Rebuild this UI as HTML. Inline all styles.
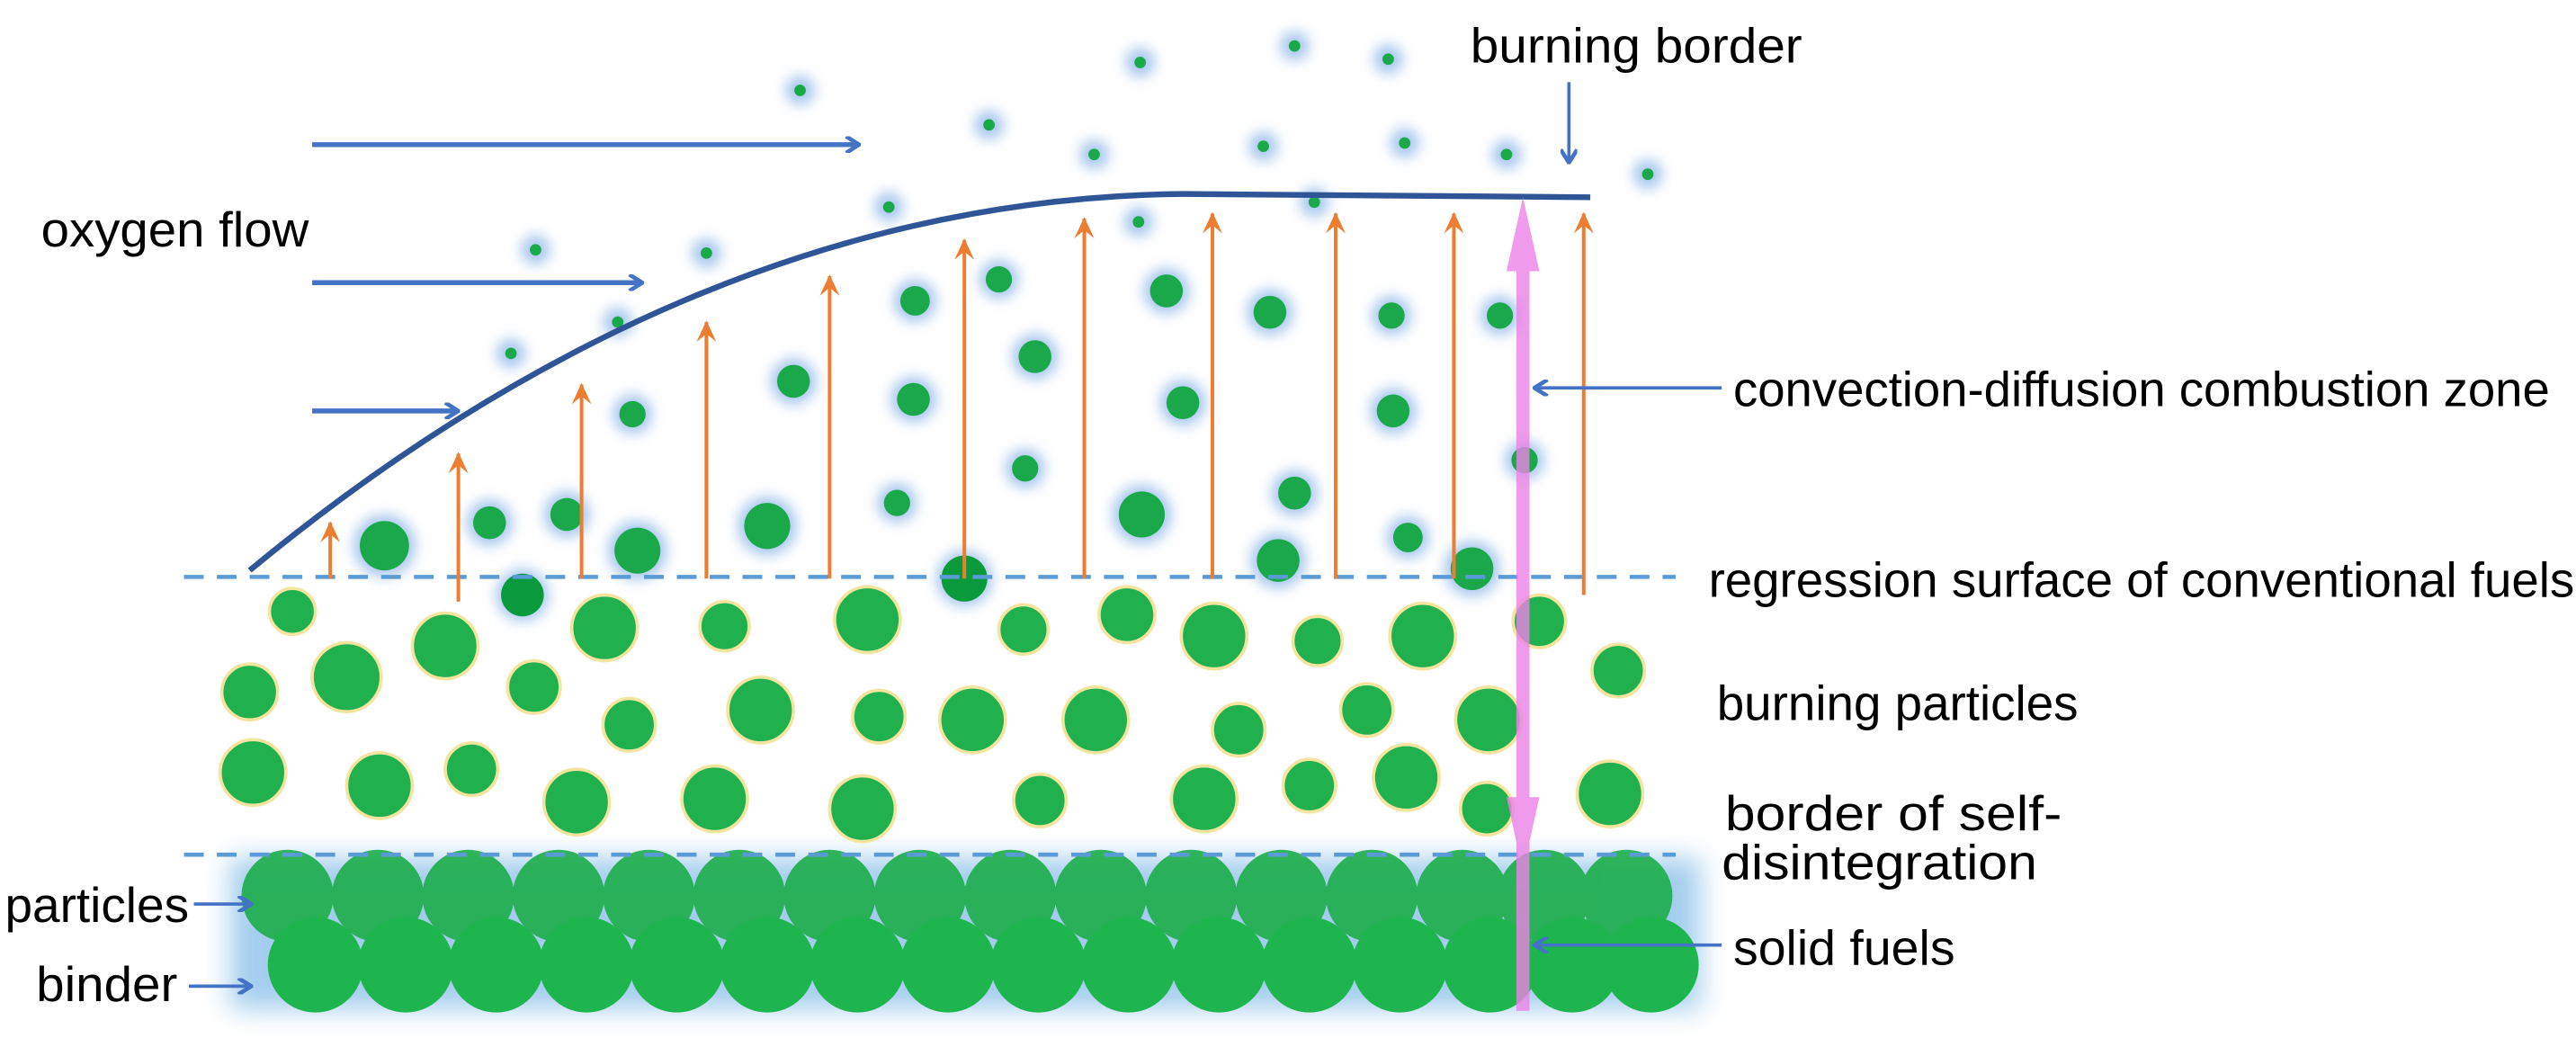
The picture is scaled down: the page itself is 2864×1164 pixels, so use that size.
<!DOCTYPE html>
<html><head><meta charset="utf-8"><style>html,body{margin:0;padding:0;background:#fff}svg{display:block}</style></head>
<body>
<svg width="2864" height="1164" viewBox="0 0 1568 637" preserveAspectRatio="none" xmlns="http://www.w3.org/2000/svg">
<defs>
<filter id="g" x="-1" y="-1" width="3" height="3"><feGaussianBlur stdDeviation="4"/></filter>
<filter id="b" x="-0.2" y="-0.5" width="1.4" height="2"><feGaussianBlur stdDeviation="8"/></filter>
<marker id="ab" markerWidth="10" markerHeight="10" refX="8" refY="5" orient="auto" markerUnits="userSpaceOnUse"><path d="M1,0 L9,5 L1,10" fill="none" stroke="#4472c4" stroke-width="2.5"/></marker>
<marker id="ao" markerWidth="14" markerHeight="14" refX="12" refY="7" orient="auto" markerUnits="userSpaceOnUse"><path d="M0,1 L13,7 L0,13 L5,7 Z" fill="#ed7d31"/></marker>
</defs>
<style>
text{font-family:"Liberation Sans Narrow","Liberation Sans",sans-serif;font-size:30px;fill:#000}
.bl{stroke:#4472c4;stroke-width:3;fill:none}
.or{stroke:#ed7d31;stroke-width:2.2;marker-end:url(#ao)}
.bp{fill:#21b04e;stroke:#f3e4a0;stroke-width:2}
</style>
<rect x="140" y="522" width="895" height="92" fill="#5aa6e0" opacity="0.55" filter="url(#b)"/>
<g fill="#1cad4a" opacity="0.9">
<circle cx="175" cy="545" r="28"/><circle cx="230" cy="545" r="28"/><circle cx="285" cy="545" r="28"/><circle cx="340" cy="545" r="28"/><circle cx="395" cy="545" r="28"/><circle cx="450" cy="545" r="28"/><circle cx="505" cy="545" r="28"/><circle cx="560" cy="545" r="28"/><circle cx="615" cy="545" r="28"/><circle cx="670" cy="545" r="28"/><circle cx="725" cy="545" r="28"/><circle cx="780" cy="545" r="28"/><circle cx="835" cy="545" r="28"/><circle cx="890" cy="545" r="28"/><circle cx="940" cy="545" r="28"/><circle cx="990" cy="545" r="28"/>
</g>
<g fill="#1fb54e">
<circle cx="192" cy="587" r="29"/><circle cx="247" cy="587" r="29"/><circle cx="302" cy="587" r="29"/><circle cx="357" cy="587" r="29"/><circle cx="412" cy="587" r="29"/><circle cx="467" cy="587" r="29"/><circle cx="522" cy="587" r="29"/><circle cx="577" cy="587" r="29"/><circle cx="632" cy="587" r="29"/><circle cx="687" cy="587" r="29"/><circle cx="742" cy="587" r="29"/><circle cx="797" cy="587" r="29"/><circle cx="852" cy="587" r="29"/><circle cx="907" cy="587" r="29"/><circle cx="957" cy="587" r="29"/><circle cx="1005" cy="587" r="29"/>
</g>
<g class="bp">
<circle cx="178" cy="372" r="14"/><circle cx="271" cy="393" r="20"/><circle cx="368" cy="382" r="20"/><circle cx="441" cy="381" r="15"/><circle cx="528" cy="377" r="20"/><circle cx="623" cy="383" r="15"/><circle cx="686" cy="374" r="17"/><circle cx="739" cy="387" r="20"/><circle cx="802" cy="390" r="15"/><circle cx="866" cy="387" r="20"/><circle cx="937" cy="378" r="16"/>
<circle cx="152" cy="421" r="17"/><circle cx="211" cy="412" r="21"/><circle cx="325" cy="418" r="16"/><circle cx="383" cy="441" r="16"/><circle cx="463" cy="432" r="20"/><circle cx="535" cy="436" r="16"/><circle cx="592" cy="438" r="20"/><circle cx="667" cy="438" r="20"/><circle cx="754" cy="444" r="16"/><circle cx="832" cy="432" r="16"/><circle cx="906" cy="438" r="20"/><circle cx="985" cy="408" r="16"/>
<circle cx="154" cy="470" r="20"/><circle cx="231" cy="478" r="20"/><circle cx="287" cy="468" r="16"/><circle cx="351" cy="488" r="20"/><circle cx="435" cy="486" r="20"/><circle cx="525" cy="492" r="20"/><circle cx="633" cy="487" r="16"/><circle cx="733" cy="486" r="20"/><circle cx="797" cy="478" r="16"/><circle cx="856" cy="473" r="20"/><circle cx="905" cy="492" r="16"/><circle cx="980" cy="483" r="20"/>
</g>
<g fill="#a9c8ee" filter="url(#g)">
<circle cx="234" cy="332" r="19"/><circle cx="298" cy="318" r="14"/><circle cx="345" cy="313" r="14"/><circle cx="388" cy="335" r="18"/><circle cx="467" cy="320" r="18"/><circle cx="318" cy="362" r="16"/><circle cx="587" cy="352" r="17"/><circle cx="546" cy="306" r="12"/><circle cx="624" cy="285" r="12"/><circle cx="695" cy="313" r="18"/><circle cx="778" cy="341" r="17"/><circle cx="788" cy="300" r="14"/><circle cx="857" cy="327" r="13"/><circle cx="896" cy="346" r="17"/><circle cx="928" cy="280" r="12"/><circle cx="483" cy="232" r="14"/><circle cx="556" cy="243" r="14"/><circle cx="385" cy="252" r="12"/><circle cx="557" cy="183" r="13"/><circle cx="608" cy="170" r="12"/><circle cx="630" cy="217" r="14"/><circle cx="710" cy="177" r="14"/><circle cx="720" cy="245" r="14"/><circle cx="773" cy="190" r="14"/><circle cx="847" cy="192" r="12"/><circle cx="848" cy="250" r="14"/><circle cx="913" cy="192" r="12"/>
<circle cx="487" cy="55" r="9"/><circle cx="694" cy="38" r="9"/><circle cx="788" cy="28" r="9"/><circle cx="845" cy="36" r="9"/><circle cx="602" cy="76" r="9"/><circle cx="666" cy="94" r="9"/><circle cx="769" cy="89" r="9"/><circle cx="855" cy="87" r="9"/><circle cx="917" cy="94" r="9"/><circle cx="1003" cy="106" r="9"/><circle cx="541" cy="126" r="9"/><circle cx="693" cy="135" r="9"/><circle cx="800" cy="123" r="9"/><circle cx="326" cy="152" r="9"/><circle cx="430" cy="154" r="9"/><circle cx="376" cy="196" r="9"/><circle cx="311" cy="215" r="9"/>
</g>
<g fill="#1aa84a">
<circle cx="234" cy="332" r="15"/><circle cx="298" cy="318" r="10"/><circle cx="345" cy="313" r="10"/><circle cx="388" cy="335" r="14"/><circle cx="467" cy="320" r="14"/><circle cx="318" cy="362" r="13" fill="#0a9a3c"/><circle cx="587" cy="352" r="14" fill="#0a9a3c"/><circle cx="546" cy="306" r="8"/><circle cx="624" cy="285" r="8"/><circle cx="695" cy="313" r="14"/><circle cx="778" cy="341" r="13"/><circle cx="788" cy="300" r="10"/><circle cx="857" cy="327" r="9"/><circle cx="896" cy="346" r="13"/><circle cx="928" cy="280" r="8"/><circle cx="483" cy="232" r="10"/><circle cx="556" cy="243" r="10"/><circle cx="385" cy="252" r="8"/><circle cx="557" cy="183" r="9"/><circle cx="608" cy="170" r="8"/><circle cx="630" cy="217" r="10"/><circle cx="710" cy="177" r="10"/><circle cx="720" cy="245" r="10"/><circle cx="773" cy="190" r="10"/><circle cx="847" cy="192" r="8"/><circle cx="848" cy="250" r="10"/><circle cx="913" cy="192" r="8"/>
<circle cx="487" cy="55" r="3.5"/><circle cx="694" cy="38" r="3.5"/><circle cx="788" cy="28" r="3.5"/><circle cx="845" cy="36" r="3.5"/><circle cx="602" cy="76" r="3.5"/><circle cx="666" cy="94" r="3.5"/><circle cx="769" cy="89" r="3.5"/><circle cx="855" cy="87" r="3.5"/><circle cx="917" cy="94" r="3.5"/><circle cx="1003" cy="106" r="3.5"/><circle cx="541" cy="126" r="3.5"/><circle cx="693" cy="135" r="3.5"/><circle cx="800" cy="123" r="3.5"/><circle cx="326" cy="152" r="3.5"/><circle cx="430" cy="154" r="3.5"/><circle cx="376" cy="196" r="3.5"/><circle cx="311" cy="215" r="3.5"/>
</g>
<line x1="112" y1="351" x2="1020" y2="351" stroke="#5b9bd5" stroke-width="2.5" stroke-dasharray="12,8"/>
<line x1="112" y1="520" x2="1020" y2="520" stroke="#5b9bd5" stroke-width="2.5" stroke-dasharray="12,8"/>
<path d="M152,347 C330,200 520,120 720,118 L968,120" fill="none" stroke="#2f5597" stroke-width="3.5"/>
<line class="or" x1="201" y1="352" x2="201" y2="318"/>
<line class="or" x1="279" y1="366" x2="279" y2="276"/>
<line class="or" x1="354" y1="352" x2="354" y2="234"/>
<line class="or" x1="430" y1="352" x2="430" y2="196"/>
<line class="or" x1="505" y1="352" x2="505" y2="168"/>
<line class="or" x1="587" y1="352" x2="587" y2="146"/>
<line class="or" x1="660" y1="352" x2="660" y2="133"/>
<line class="or" x1="738" y1="352" x2="738" y2="130"/>
<line class="or" x1="813" y1="352" x2="813" y2="130"/>
<line class="or" x1="885" y1="352" x2="885" y2="130"/>
<line class="or" x1="964" y1="362" x2="964" y2="130"/>
<line class="bl" x1="190" y1="88" x2="522" y2="88" marker-end="url(#ab)"/>
<line class="bl" x1="190" y1="172" x2="390" y2="172" marker-end="url(#ab)"/>
<line class="bl" x1="190" y1="250" x2="278" y2="250" marker-end="url(#ab)"/>
<g fill="#ec82e6" opacity="0.8">
<rect x="923" y="150" width="8" height="465"/>
<path d="M927,120 L937,165 L917,165 Z"/>
<path d="M927,530 L937,485 L917,485 Z"/>
</g>
<line x1="955" y1="50" x2="955" y2="98" stroke="#4472c4" stroke-width="2" marker-end="url(#ab)"/>
<line x1="1048" y1="236" x2="935" y2="236" stroke="#4472c4" stroke-width="2" marker-end="url(#ab)"/>
<line x1="1048" y1="575" x2="935" y2="575" stroke="#4472c4" stroke-width="2" marker-end="url(#ab)"/>
<line x1="118" y1="550" x2="152" y2="550" stroke="#4472c4" stroke-width="2" marker-end="url(#ab)"/>
<line x1="115" y1="600" x2="152" y2="600" stroke="#4472c4" stroke-width="2" marker-end="url(#ab)"/>
<text x="25" y="150" textLength="163" lengthAdjust="spacingAndGlyphs">oxygen flow</text>
<text x="895" y="38" textLength="202" lengthAdjust="spacingAndGlyphs">burning border</text>
<text x="1055" y="247" textLength="497" lengthAdjust="spacingAndGlyphs">convection-diffusion combustion zone</text>
<text x="1040" y="363" textLength="527" lengthAdjust="spacingAndGlyphs">regression surface of conventional fuels</text>
<text x="1045" y="438" textLength="220" lengthAdjust="spacingAndGlyphs">burning particles</text>
<text x="1050" y="505" textLength="205" lengthAdjust="spacingAndGlyphs">border of self-</text>
<text x="1048" y="535" textLength="192" lengthAdjust="spacingAndGlyphs">disintegration</text>
<text x="1055" y="587" textLength="135" lengthAdjust="spacingAndGlyphs">solid fuels</text>
<text x="3" y="561" textLength="112" lengthAdjust="spacingAndGlyphs">particles</text>
<text x="22" y="609" textLength="86" lengthAdjust="spacingAndGlyphs">binder</text>
</svg>
</body></html>
